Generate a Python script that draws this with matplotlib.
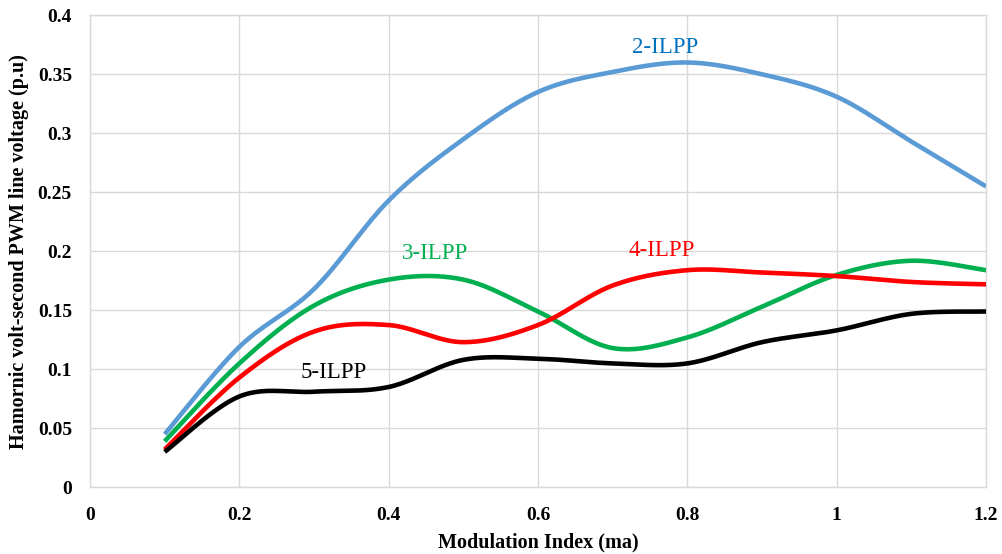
import numpy as np
import matplotlib
matplotlib.use("Agg")
import matplotlib.pyplot as plt

ma = [0.1, 0.2, 0.3, 0.4, 0.5, 0.6, 0.7, 0.8, 0.9, 1.0, 1.1, 1.2]
ilpp2 = [0.045, 0.119, 0.168, 0.243, 0.295, 0.335, 0.352, 0.360, 0.350, 0.331, 0.293, 0.255]
ilpp3 = [0.039, 0.105, 0.154, 0.176, 0.176, 0.149, 0.118, 0.127, 0.153, 0.180, 0.192, 0.184]
ilpp4 = [0.032, 0.093, 0.132, 0.1375, 0.123, 0.1375, 0.171, 0.184, 0.182, 0.179, 0.174, 0.172]
ilpp5 = [0.030, 0.077, 0.081, 0.085, 0.108, 0.109, 0.105, 0.105, 0.123, 0.133, 0.147, 0.149]

series = [
    ("2-ILPP", ilpp2, "#5B9BD5", "#0070C0"),
    ("3-ILPP", ilpp3, "#00B050", "#00B050"),
    ("4-ILPP", ilpp4, "#FF0000", "#FF0000"),
    ("5-ILPP", ilpp5, "#000000", "#000000"),
]
label_pos = {"2-ILPP": (0.770, 0.373), "3-ILPP": (0.462, 0.198),
             "4-ILPP": (0.765, 0.201), "5-ILPP": (0.327, 0.097)}


def smooth(x, y, n=40):
    """Excel-style smoothed line: cubic Bezier through the points."""
    x = np.asarray(x, float)
    y = np.asarray(y, float)
    P = np.column_stack([x, y])
    m = len(P)
    out = []
    t = np.linspace(0, 1, n)[:, None]
    for i in range(m - 1):
        p0 = P[i]
        p3 = P[i + 1]
        pm = P[i - 1] if i > 0 else P[i]
        pp = P[i + 2] if i + 2 < m else P[i + 1]
        c1 = p0 + (p3 - pm) / 6.0
        c2 = p3 - (pp - p0) / 6.0
        seg = ((1 - t) ** 3) * p0 + 3 * ((1 - t) ** 2) * t * c1 + 3 * (1 - t) * t ** 2 * c2 + t ** 3 * p3
        out.append(seg if i == 0 else seg[1:])
    s = np.vstack(out)
    return s[:, 0], s[:, 1]


plt.rcParams['font.family'] = ['Liberation Serif', 'DejaVu Serif']
fig = plt.figure(figsize=(10.03, 5.54), dpi=100)
ax = fig.add_axes([90 / 1003, 1 - 487.3 / 554, (986 - 90) / 1003, (487.3 - 15.3) / 554])

for name, vals, col, tcol in series:
    sx, sy = smooth(ma, vals)
    ax.plot(sx, sy, color=col, lw=3.3, solid_capstyle='butt', zorder=3)
    lx, ly = label_pos[name]
    ax.text(lx, ly, name, color=tcol, fontsize=16.5, ha='center', va='center', zorder=4)

ax.set_xlim(0, 1.2)
ax.set_ylim(0, 0.4)
xt = [0, 0.2, 0.4, 0.6, 0.8, 1, 1.2]
yt = [0, 0.05, 0.1, 0.15, 0.2, 0.25, 0.3, 0.35, 0.4]
ax.set_xticks(xt)
ax.set_xticklabels(["0", "0.2", "0.4", "0.6", "0.8", "1", "1.2"])
ax.set_yticks(yt)
ax.set_yticklabels(["0", "0.05", "0.1", "0.15", "0.2", "0.25", "0.3", "0.35", "0.4"])
ax.tick_params(length=0, labelsize=14, pad=13)
ax.tick_params(axis='x', pad=14)
for lab in ax.get_xticklabels() + ax.get_yticklabels():
    lab.set_fontweight('bold')
ax.grid(True, color='#D9D9D9', lw=1.0, zorder=0)
for sp in ax.spines.values():
    sp.set_color('#D9D9D9')
    sp.set_linewidth(1.0)
ax.set_axisbelow(True)
ax.set_xlabel("Modulation Index (ma)", fontsize=14.5, fontweight='bold', labelpad=6)
ax.set_ylabel("Hamornic volt-second PWM line voltage (p.u)", fontsize=14.5, fontweight='bold', labelpad=6)

fig.savefig("out.png", dpi=100)
